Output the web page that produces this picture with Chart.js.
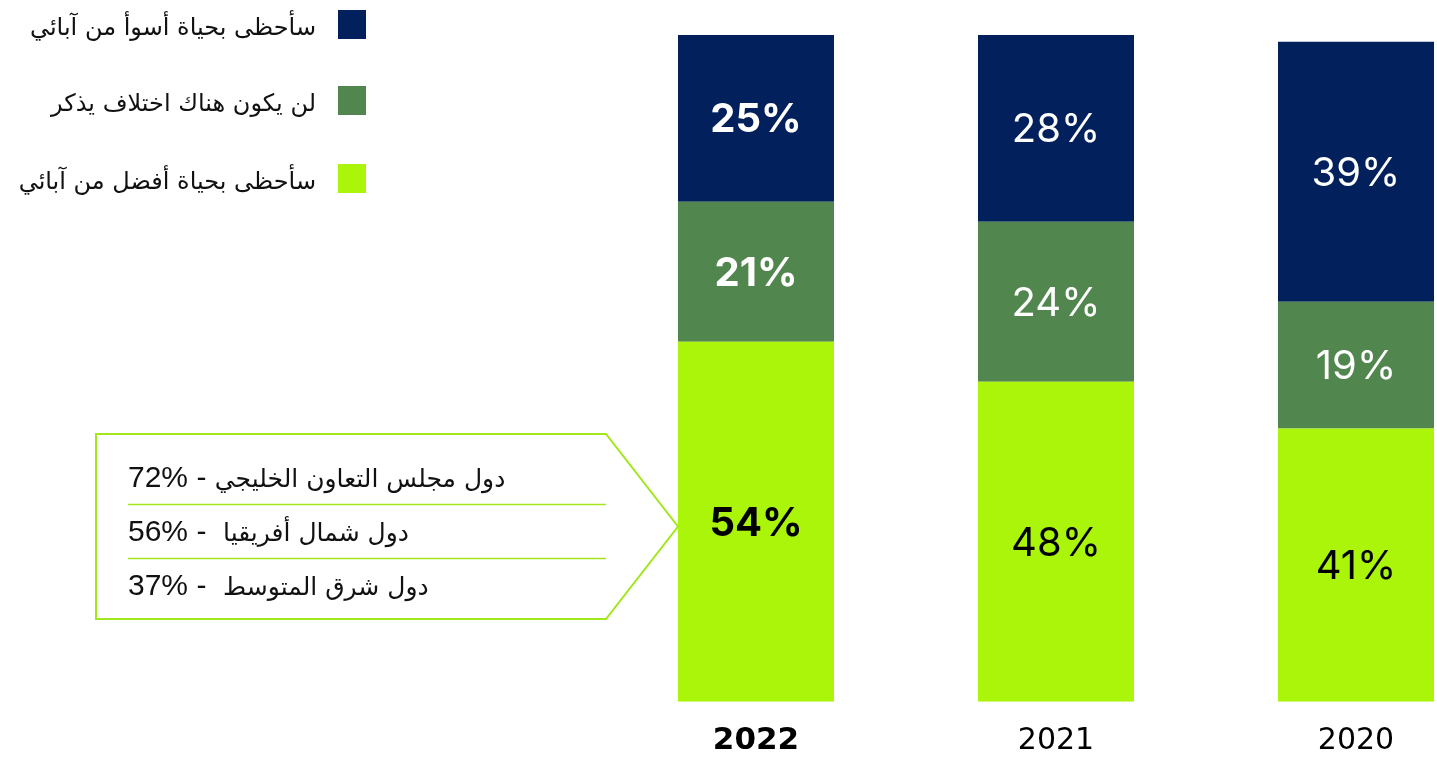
<!DOCTYPE html>
<html lang="ar">
<head>
<meta charset="utf-8">
<script src="https://cdn.jsdelivr.net/npm/chart.js@4.4.1/dist/chart.umd.min.js"></script>
<style>
  html, body { margin: 0; padding: 0; background: #fff; width: 1437px; height: 758px; overflow: hidden; }
  #wrap { position: relative; width: 1437px; height: 758px; overflow: hidden; }
  #chart { position: absolute; left: 0; top: 0; }
  .legend-item { position: absolute; left: 0; width: 366px; height: 29px; display: flex; justify-content: flex-end; align-items: center; }
  .legend-item span { font: 24px "DejaVu Sans", sans-serif; color: #111; white-space: nowrap; direction: rtl; padding-top: 4px; }
  .legend-item i { display: block; width: 28px; height: 29px; margin-left: 22px; flex: none; }
  .note { position: absolute; left: 128px; width: 478px; direction: rtl; text-align: left; font: 30px "Liberation Sans", "DejaVu Sans", sans-serif; color: #111; white-space: nowrap; line-height: 34px; }
  .note .ar { font-family: "DejaVu Sans", sans-serif; font-size: 25px; }
</style>
</head>
<body>
<div id="wrap">
  <canvas id="chart" width="1506" height="781"></canvas>
  <div id="legend"></div>
  <div class="note" style="top:460px"><span class="ar">دول مجلس التعاون الخليجي</span> - <bdi>72%</bdi></div>
  <div class="note" style="top:514px"><span class="ar">دول شمال أفريقيا</span>&nbsp; - <bdi>56%</bdi></div>
  <div class="note" style="top:568px"><span class="ar">دول شرق المتوسط</span>&nbsp; - <bdi>37%</bdi></div>
</div>
<script>
const years = ['2022', '2021', '2020'];
const better = [54, 48, 41];
const noChange = [21, 24, 19];
const worse = [25, 28, 39];

const seriesNames = ['سأحظى بحياة أفضل من آبائي', 'لن يكون هناك اختلاف يذكر', 'سأحظى بحياة أسوأ من آبائي'];
const seriesColors = ['#abf50a', '#52864f', '#02205c'];
const labelColors = ['#000', '#fff', '#fff'];

// legend, top to bottom: worse, no change, better
const legendEl = document.getElementById('legend');
[2, 1, 0].forEach((s, row) => {
    const item = document.createElement('div');
    item.className = 'legend-item';
    item.style.top = [10, 86, 164][row] + 'px';
    item.innerHTML = `<span>${seriesNames[s]}</span><i style="background:${seriesColors[s]}"></i>`;
    legendEl.appendChild(item);
});

// percent labels in the middle of each segment
const segmentLabels = {
    id: 'segmentLabels',
    afterDatasetsDraw(chart) {
        const ctx = chart.ctx;
        ctx.save();
        ctx.textAlign = 'center';
        ctx.textBaseline = 'middle';
        chart.data.datasets.forEach((ds, di) => {
            chart.getDatasetMeta(di).data.forEach((bar, i) => {
                ctx.font = (i === 0 ? 'bold ' : '') + '40px Inter';
                ctx.fillStyle = labelColors[di];
                ctx.fillText(ds.data[i] + '%', bar.x, (bar.y + bar.base) / 2 + 2);
            });
        });
        ctx.restore();
    }
};

// arrow-shaped box pointing at the 2022 bar
const calloutBox = {
    id: 'calloutBox',
    afterDatasetsDraw(chart) {
        const bar = chart.getDatasetMeta(0).data[0];
        const left = 96, top = 434, bottom = 619;
        const tipX = bar.x - bar.width / 2;
        const tipY = (top + bottom) / 2;
        const edge = tipX - 72;
        const ctx = chart.ctx;
        ctx.save();
        ctx.strokeStyle = '#a2e61c';
        ctx.lineWidth = 2;
        ctx.beginPath();
        ctx.moveTo(left, top);
        ctx.lineTo(edge, top);
        ctx.lineTo(tipX, tipY);
        ctx.lineTo(edge, bottom);
        ctx.lineTo(left, bottom);
        ctx.closePath();
        ctx.stroke();
        ctx.lineWidth = 1.5;
        [504.5, 558.5].forEach(y => {
            ctx.beginPath();
            ctx.moveTo(128, y);
            ctx.lineTo(edge, y);
            ctx.stroke();
        });
        ctx.restore();
    }
};

new Chart(document.getElementById('chart'), {
    type: 'bar',
    data: {
        labels: years,
        datasets: [better, noChange, worse].map((d, i) => ({
            label: seriesNames[i],
            data: d,
            backgroundColor: seriesColors[i],
            borderWidth: 0,
            barPercentage: 1,
            categoryPercentage: 0.52
        }))
    },
    options: {
        responsive: false,
        animation: false,
        layout: { padding: { left: 606, right: 0, top: 35, bottom: 0 } },
        plugins: { legend: { display: false }, tooltip: { enabled: false } },
        scales: {
            x: {
                stacked: true,
                grid: { display: false, drawTicks: false },
                border: { display: false },
                ticks: {
                    color: '#000',
                    padding: 21,
                    font: c => c.index === 0
                        ? { family: 'DejaVu Sans', size: 31, weight: 'bold' }
                        : { family: 'DejaVu Sans', size: 30, weight: 'normal' }
                }
            },
            y: { stacked: true, display: false, min: 0, max: 100 }
        }
    },
    plugins: [segmentLabels, calloutBox]
});
</script>
</body>
</html>
